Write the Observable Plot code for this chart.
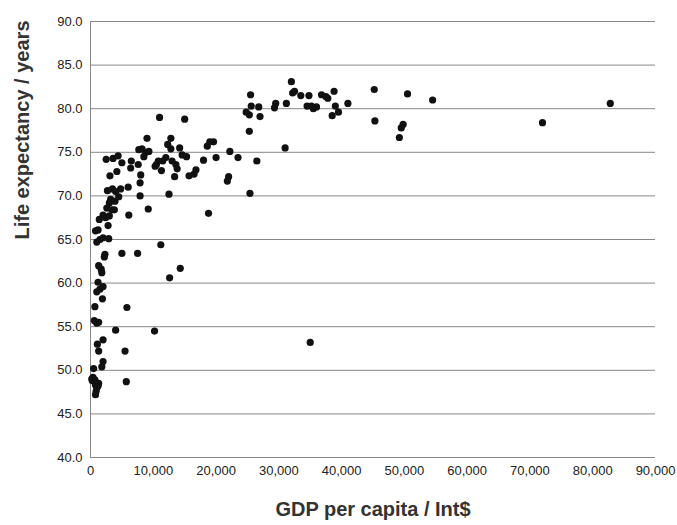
<!DOCTYPE html>
<html><head>
<script src="https://cdn.jsdelivr.net/npm/d3@7"></script>
<script src="https://cdn.jsdelivr.net/npm/@observablehq/plot@0.6"></script>
<style>body{margin:0;background:#fff;font-family:"Liberation Sans",Arial,sans-serif}</style>
</head><body>
<div id="chart"></div>
<script>
const gdp = [82800,72000,54500,50500,49800,49500,49200,45200,45300,41000,39500,39000,38800,38500,37800,37500,36800,36000,35500,35200,34800,34500,33500,32500,32200,32000,31200,31000,29500,29300,27000,26800,26500,25500,25600,25300,25300,25400,24800,35000,23500,22200,22000,21800,20000,19600,19000,18600,18800,18000,16800,16500,15700,15000,15300,14600,14200,13800,13600,13400,13000,12800,12800,12500,12300,12000,11500,11300,11000,10800,10500,10300,14300,12600,11200,10200,9300,9000,8800,8500,8200,8000,7900,7700,7600,7900,9200,7500,6500,6400,6000,6100,5800,5500,5700,5000,4800,4500,4400,4200,4000,3900,3800,3600,3500,3400,3200,3000,3000,3100,2800,2700,2500,2600,2400,2300,2200,5000,4000,2900,2000,2000,1800,1700,1500,1400,1200,1000,800,1300,2000,1900,1500,1200,1000,700,1300,1000,600,1100,1300,2000,2000,1800,500,400,700,800,1000,1200,900,800,300,200,1300]
const life = [80.6,78.4,81.0,81.7,78.2,77.8,76.7,82.2,78.6,80.6,79.6,80.3,82.0,79.2,81.2,81.4,81.6,80.2,80.0,80.3,81.5,80.3,81.5,82.0,81.8,83.1,80.6,75.5,80.6,80.1,79.1,80.2,74.0,81.6,80.3,79.3,77.4,70.3,79.6,53.2,74.4,75.1,72.2,71.7,74.4,76.2,76.2,75.7,68.0,74.1,73.0,72.5,72.3,78.8,74.5,74.7,75.5,73.1,73.6,72.2,74.0,76.6,75.4,70.2,75.9,74.4,74.0,72.9,79.0,74.0,73.6,73.4,61.7,60.6,64.4,54.5,75.1,76.6,75.0,74.5,75.4,72.4,71.5,75.3,73.6,70.0,68.5,63.4,74.0,73.2,71.0,67.8,57.2,52.2,48.7,73.8,70.8,69.9,74.6,72.8,70.5,69.4,68.4,74.3,70.8,68.4,69.6,69.2,67.7,72.3,66.6,70.6,74.2,68.6,67.5,63.3,63.0,63.4,54.6,65.1,67.8,65.2,61.2,61.6,65.0,67.3,66.1,64.7,66.0,62.0,59.6,58.2,59.3,60.1,59.0,57.3,55.5,55.4,55.7,53.0,52.2,53.5,51.0,50.4,50.2,49.2,48.9,48.3,48.0,48.2,47.6,47.2,48.8,49.0,48.5]
const xTicks = d3.range(0, 90001, 10000)
const yTicks = d3.range(40, 90.1, 5)
const data = gdp.map((g, i) => ({gdp: g, life: life[i]}))

const chart = Plot.plot({
  width: 677, height: 525,
  marginLeft: 90, marginRight: 22, marginTop: 21, marginBottom: 68,
  style: {fontFamily: "Liberation Sans, Arial, sans-serif", fontSize: "13px", color: "#222"},
  x: {domain: [0, 90000], ticks: xTicks, tickFormat: d3.format(","), tickSize: 0, tickPadding: 8, label: null},
  y: {domain: [40, 90], ticks: yTicks, tickFormat: d3.format(".1f"), tickSize: 0, tickPadding: 8, label: null},
  marks: [
    Plot.gridY(yTicks, {stroke: "#888", strokeOpacity: 1, strokeWidth: 1}),
    Plot.ruleX([0], {stroke: "#888"}),
    Plot.axisX({ticks: xTicks, tickFormat: d3.format(","), tickSize: 0, tickPadding: 8, fontSize: 13}),
    Plot.axisY({ticks: yTicks, tickFormat: d3.format(".1f"), tickSize: 0, tickPadding: 8, fontSize: 13}),
    Plot.dot(data, {x: "gdp", y: "life", r: 3.6, fill: "#111", stroke: "none"}),
    Plot.text(["GDP per capita / Int$"], {frameAnchor: "bottom", dy: 58, fontSize: 20, fontWeight: "bold", fill: "#333"}),
    Plot.text(["Life expectancy / years"], {frameAnchor: "left", dx: -68, rotate: -90, fontSize: 20, fontWeight: "bold", fill: "#333"})
  ]
})
d3.select("#chart").append(() => chart)
</script>
</body></html>
